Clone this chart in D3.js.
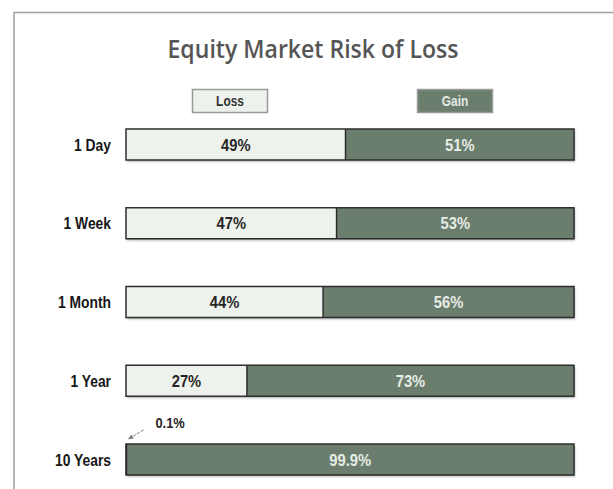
<!DOCTYPE html>
<html><head><meta charset="utf-8">
<script src="https://cdn.jsdelivr.net/npm/d3@7"></script>
<style>html,body{margin:0;padding:0;background:#fff;}svg{display:block;}</style>
</head><body>
<svg id="c" width="613" height="489"></svg>
<script>
const categories = ["1 Day", "1 Week", "1 Month", "1 Year", "10 Years"];
const lossValues = [49, 47, 44, 27, 0.1];
const gainValues = [51, 53, 56, 73, 99.9];
const lossLabels = ["49%", "47%", "44%", "27%", "0.1%"];
const gainLabels = ["51%", "53%", "56%", "73%", "99.9%"];
const seriesNames = ["Loss", "Gain"];
const title = "Equity Market Risk of Loss";

const lossFill = "#eef2ec", gainFill = "#6b7e6e";
const svg = d3.select("#c");
const defs = svg.append("defs");
const f = defs.append("filter").attr("id","sh").attr("x","-5%").attr("y","-30%").attr("width","110%").attr("height","170%");
f.append("feDropShadow").attr("dx",1).attr("dy",1.5).attr("stdDeviation",1).attr("flood-color","#000").attr("flood-opacity",0.35);
const m = defs.append("marker").attr("id","ah").attr("viewBox","0 0 10 10").attr("refX",8).attr("refY",5)
  .attr("markerWidth",6).attr("markerHeight",6).attr("orient","auto");
m.append("path").attr("d","M0,1 L9,5 L0,9 z").attr("fill","#777");

// frame
svg.append("path").attr("d","M14,489 L14,12.5 L613,12.5").attr("fill","none").attr("stroke","#a0a0a0").attr("stroke-width",1.5);

// title
svg.append("text").attr("x",313).attr("y",58).attr("text-anchor","middle")
  .attr("font-family","'Open Sans', sans-serif").attr("font-weight",600).attr("font-size",26)
  .attr("fill","#555").attr("textLength",291).attr("lengthAdjust","spacingAndGlyphs").text(title);

const x = d3.scaleLinear().domain([0,100]).range([126,574]);
const y = d3.scalePoint().domain(categories).range([129,444]);
const bh = 31;

// legend
const legX = d3.scalePoint().domain(seriesNames).range([230,455]);
const lg = svg.append("g").selectAll("g").data(seriesNames).join("g");
lg.append("rect").attr("x",d=>legX(d)-37.5).attr("y",89.5).attr("width",75).attr("height",23)
  .attr("fill",(d,i)=>i?gainFill:lossFill).attr("stroke","#9a9a9a").attr("stroke-width",1.5);
lg.append("text").attr("transform",d=>`translate(${legX(d)},106) scale(0.85,1)`).attr("text-anchor","middle")
  .attr("font-family","'Liberation Sans', Arial, sans-serif").attr("font-weight","bold").attr("font-size",14)
  .attr("fill",(d,i)=>i?"#e6ebe4":"#333").text(d=>d);

const rows = svg.append("g").selectAll("g").data(categories).join("g");
rows.append("rect").attr("x",x(0)).attr("y",d=>y(d)).attr("width",x(100)-x(0)).attr("height",bh)
  .attr("fill",gainFill).attr("filter","url(#sh)");
rows.append("rect").attr("x",x(0)).attr("y",d=>y(d)).attr("width",(d,i)=>x(lossValues[i])-x(0)).attr("height",bh)
  .attr("fill",lossFill);
rows.append("rect").attr("x",(d,i)=>x(lossValues[i])).attr("y",d=>y(d)).attr("width",(d,i)=>x(100)-x(lossValues[i])).attr("height",bh)
  .attr("fill",gainFill);
rows.append("line").attr("x1",(d,i)=>x(lossValues[i])).attr("x2",(d,i)=>x(lossValues[i]))
  .attr("y1",d=>y(d)).attr("y2",d=>y(d)+bh).attr("stroke","#2b2b2b").attr("stroke-width",1.5);
rows.append("rect").attr("x",x(0)).attr("y",d=>y(d)).attr("width",x(100)-x(0)).attr("height",bh)
  .attr("fill","none").attr("stroke","#2e2e2e").attr("stroke-width",1.5);

// category labels
rows.append("text").attr("transform",d=>`translate(111,${y(d)+bh/2+6}) scale(0.84,1)`).attr("text-anchor","end")
  .attr("font-family","'Liberation Sans', Arial, sans-serif").attr("font-weight","bold").attr("font-size",16.5)
  .attr("fill","#161616").text(d=>d);

// value labels
const vf = "'Liberation Sans', Arial, sans-serif";
rows.filter((d,i)=>lossValues[i]>=5).append("text")
  .attr("transform",(d,i)=>`translate(${(x(0)+x(lossValues[categories.indexOf(d)]))/2},${y(d)+bh/2+6}) scale(0.92,1)`)
  .attr("text-anchor","middle").attr("font-family",vf).attr("font-weight","bold").attr("font-size",16)
  .attr("fill","#262626").text(d=>lossLabels[categories.indexOf(d)]);
rows.append("text")
  .attr("transform",d=>{const i=categories.indexOf(d);return `translate(${(x(lossValues[i])+x(100))/2},${y(d)+bh/2+6}) scale(0.92,1)`;})
  .attr("text-anchor","middle").attr("font-family",vf).attr("font-weight","bold").attr("font-size",16)
  .attr("fill","#e8ede6").text(d=>gainLabels[categories.indexOf(d)]);

// 0.1% annotation
const li = categories.length-1;
const ly = y(categories[li]);
svg.append("text").attr("transform",`translate(${x(lossValues[li])+29},${ly-16}) scale(0.92,1)`)
  .attr("font-family",vf).attr("font-weight","bold").attr("font-size",14).attr("fill","#262626").text(lossLabels[li]);
svg.append("line").attr("x1",x(lossValues[li])+17).attr("y1",ly-14).attr("x2",x(lossValues[li])+2).attr("y2",ly-5)
  .attr("stroke","#777").attr("stroke-width",1).attr("stroke-dasharray","3,1.5").attr("marker-end","url(#ah)");
</script>
</body></html>
